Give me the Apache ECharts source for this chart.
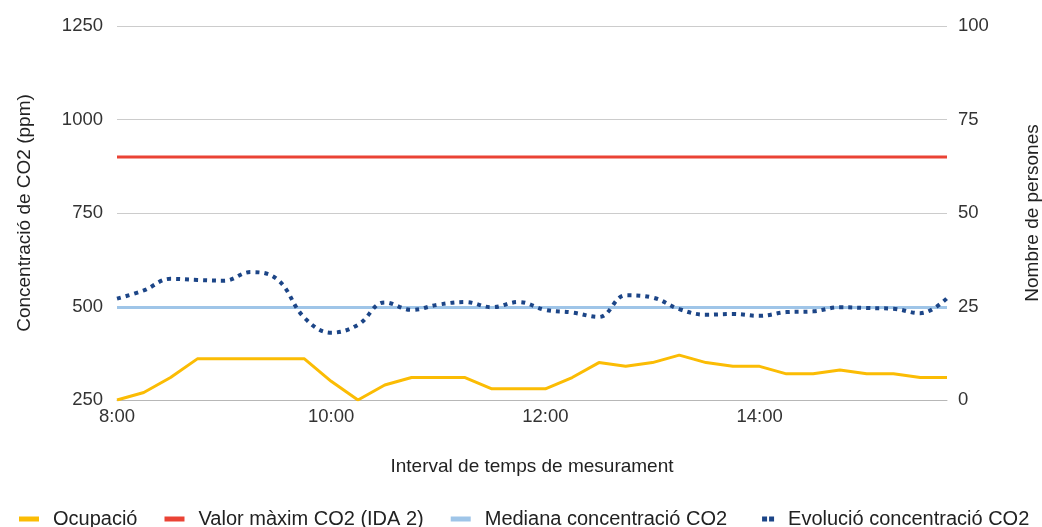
<!DOCTYPE html>
<html>
<head>
<meta charset="utf-8">
<script src="https://cdn.jsdelivr.net/npm/echarts@6/dist/echarts.min.js"></script>
<style>
  html, body { margin: 0; padding: 0; background: #fff; }
  #chart { width: 1042px; height: 527px; }
</style>
</head>
<body>
<div id="chart"></div>
<script>
// hores de mesura, cada 15 minuts
const hores = ['8:00','8:15','8:30','8:45','9:00','9:15','9:30','9:45',
  '10:00','10:15','10:30','10:45','11:00','11:15','11:30','11:45',
  '12:00','12:15','12:30','12:45','13:00','13:15','13:30','13:45',
  '14:00','14:15','14:30','14:45','15:00','15:15','15:30','15:45']

const ocupacio = [0, 2, 6, 11, 11, 11, 11, 11, 5, 0, 4, 6, 6, 6, 3, 3,
  3, 6, 10, 9, 10, 12, 10, 9, 9, 7, 7, 8, 7, 7, 6, 6]

const valorMaxim = [900, 900, 900, 900, 900, 900, 900, 900, 900, 900, 900, 900, 900, 900, 900, 900,
  900, 900, 900, 900, 900, 900, 900, 900, 900, 900, 900, 900, 900, 900, 900, 900]

const mediana = [497, 497, 497, 497, 497, 497, 497, 497, 497, 497, 497, 497, 497, 497, 497, 497,
  497, 497, 497, 497, 497, 497, 497, 497, 497, 497, 497, 497, 497, 497, 497, 497]

const evolucio = [521, 543, 574, 571, 569, 592, 572, 470, 430, 451, 511, 491, 505, 512, 498, 512,
  491, 484, 472, 530, 524, 493, 478, 480, 475, 485, 487, 498, 496, 494, 482, 522]

const font = '"Liberation Sans", Arial, sans-serif'

const chart = echarts.init(document.getElementById('chart'))

let option = {
    animation: false,
    textStyle: { fontFamily: font },
    grid: {
        left: 117,
        right: 95,
        top: 26,
        bottom: 127,
        containLabel: false,
        outerBoundsMode: 'none'
    },
    legend: {
        left: 14,
        top: 504,
        itemWidth: 20,
        itemHeight: 5,
        itemGap: 27,
        textStyle: { fontSize: 20, color: '#222', fontFamily: font, padding: [0, 0, 0, 9] },
        data: [
            { name: 'Ocupació', icon: 'rect' },
            { name: 'Valor màxim CO2 (IDA 2)', icon: 'rect' },
            { name: 'Mediana concentració CO2', icon: 'rect' },
            { name: 'Evolució concentració CO2', icon: 'path://M0 0M8 0H13V5H8Z M15 0H20V5H15Z' }
        ]
    },
    xAxis: {
        type: 'category',
        data: hores,
        boundaryGap: false,
        name: 'Interval de temps de mesurament',
        nameLocation: 'middle',
        nameGap: 57,
        nameTextStyle: { fontSize: 19, color: '#222' },
        axisLine: { lineStyle: { color: '#b7b7b7', width: 1 } },
        axisTick: { show: false },
        axisLabel: { interval: 7, fontSize: 18.5, color: '#333', margin: 7 }
    },
    yAxis: [
        {
            type: 'value',
            min: 250,
            max: 1250,
            interval: 250,
            name: 'Concentració de CO2 (ppm)',
            nameLocation: 'middle',
            nameGap: 83,
            nameRotate: 90,
            nameTextStyle: { fontSize: 19, color: '#222' },
            axisLine: { show: false },
            axisTick: { show: false },
            axisLabel: { fontSize: 18.5, color: '#333', margin: 14, formatter: v => String(v) },
            splitLine: { lineStyle: { color: '#cccccc', width: 1 } }
        },
        {
            type: 'value',
            min: 0,
            max: 100,
            interval: 25,
            name: 'Nombre de persones',
            nameLocation: 'middle',
            nameGap: 76,
            nameRotate: 90,
            nameTextStyle: { fontSize: 19, color: '#222' },
            axisLine: { show: false },
            axisTick: { show: false },
            axisLabel: { fontSize: 18.5, color: '#333', margin: 11, formatter: v => String(v) },
            splitLine: { show: false }
        }
    ],
    series: [
        {
            name: 'Ocupació',
            type: 'line',
            yAxisIndex: 1,
            data: ocupacio,
            symbol: 'none',
            itemStyle: { color: '#fbbc04' },
            lineStyle: { color: '#fbbc04', width: 3 }
        },
        {
            name: 'Valor màxim CO2 (IDA 2)',
            type: 'line',
            data: valorMaxim,
            symbol: 'none',
            itemStyle: { color: '#ea4335' },
            lineStyle: { color: '#ea4335', width: 3 }
        },
        {
            name: 'Mediana concentració CO2',
            type: 'line',
            data: mediana,
            symbol: 'none',
            itemStyle: { color: '#9fc5e8' },
            lineStyle: { color: '#9fc5e8', width: 3 }
        },
        {
            name: 'Evolució concentració CO2',
            type: 'line',
            data: evolucio,
            symbol: 'none',
            smooth: 0.4,
            itemStyle: { color: '#1c4587' },
            lineStyle: { color: '#1c4587', width: 4, type: [4, 5], cap: 'butt' }
        }
    ]
}

chart.setOption(option)
</script>
</body>
</html>
